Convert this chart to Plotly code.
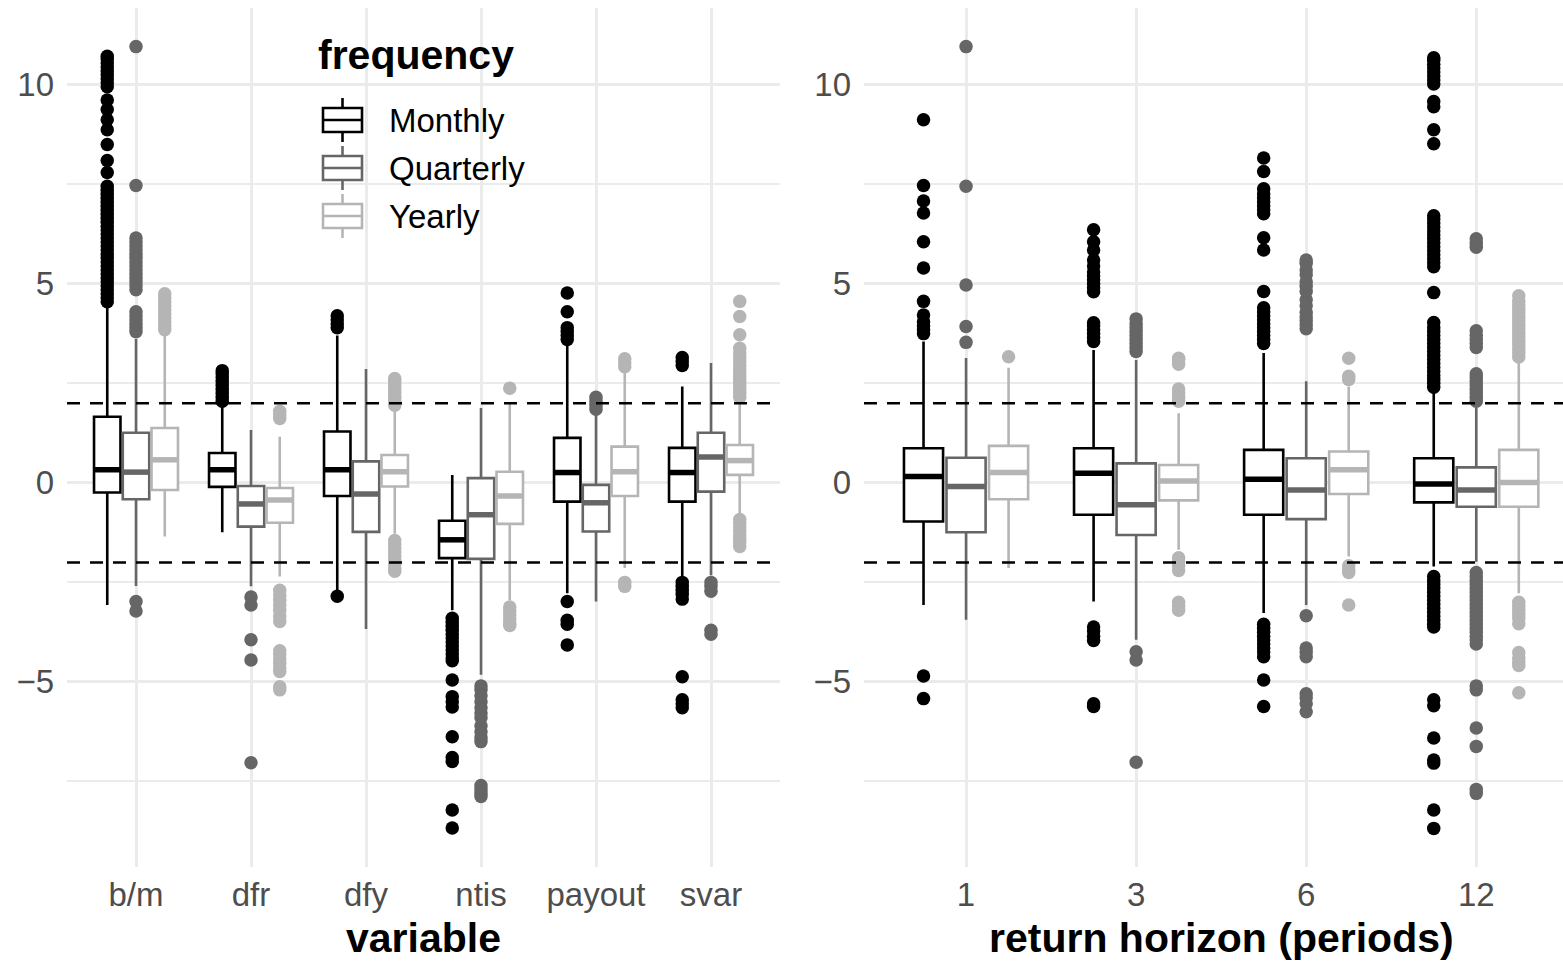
import plotly.graph_objects as go

W, H = 1563, 962

variables = ["b/m", "dfr", "dfy", "ntis", "payout", "svar"]
horizons = ["1", "3", "6", "12"]
frequencies = ["Monthly", "Quarterly", "Yearly"]
freq_colors = {"Monthly": "#000000", "Quarterly": "#666666", "Yearly": "#b5b5b5"}

# ---------------- left panel: by predictor variable ----------------
var_lower = {
    "Monthly":   [-3.07, -1.24, -2.69, -3.20, -2.77, -2.35],
    "Quarterly": [-2.59, -2.60, -3.67, -4.82, -2.98, -2.32],
    "Yearly":    [-1.35, -2.35, -1.28, -2.95, -2.14, -0.78],
}
var_q1 = {
    "Monthly":   [-0.24, -0.10, -0.33, -1.89, -0.47, -0.47],
    "Quarterly": [-0.41, -1.10, -1.23, -1.91, -1.22, -0.22],
    "Yearly":    [-0.18, -1.00, -0.09, -1.03, -0.33, 0.20],
}
var_median = {
    "Monthly":   [0.33, 0.33, 0.33, -1.43, 0.26, 0.26],
    "Quarterly": [0.27, -0.53, -0.28, -0.80, -0.50, 0.65],
    "Yearly":    [0.58, -0.43, 0.28, -0.33, 0.28, 0.56],
}
var_q3 = {
    "Monthly":   [1.66, 0.75, 1.29, -0.95, 1.13, 0.88],
    "Quarterly": [1.26, -0.08, 0.54, 0.12, -0.05, 1.26],
    "Yearly":    [1.38, -0.13, 0.70, 0.28, 0.91, 0.95],
}
var_upper = {
    "Monthly":   [4.42, 1.95, 3.70, 0.20, 3.45, 2.42],
    "Quarterly": [3.62, 1.33, 2.86, 1.88, 1.72, 3.01],
    "Yearly":    [3.70, 1.16, 1.80, 2.00, 2.76, 2.00],
}
var_outliers = {
    "Monthly": [
        [4.55, 4.65, 4.75, 4.85, 4.95, 5.05, 5.15, 5.25, 5.35, 5.45, 5.55, 5.65, 5.75, 5.85, 5.95,
         6.05, 6.15, 6.25, 6.35, 6.45, 6.55, 6.65, 6.75, 6.85, 6.95, 7.05, 7.15, 7.25, 7.35, 7.45,
         7.8, 8.1, 8.5, 8.87, 9.12, 9.38, 9.62, 9.95, 10.05, 10.15, 10.25, 10.35, 10.45, 10.55,
         10.65, 10.72],
        [2.05, 2.15, 2.25, 2.35, 2.45, 2.55, 2.65, 2.75, 2.82],
        [3.9, 4.0, 4.1, 4.2, -2.85],
        [-3.4, -3.5, -3.6, -3.7, -3.8, -3.9, -4.0, -4.1, -4.2, -4.3, -4.4, -4.47, -4.95, -5.37,
         -5.5, -5.63, -6.38, -6.9, -7.0, -8.22, -8.67],
        [3.6, 3.7, 3.8, 3.9, 4.3, 4.77, -2.98, -3.45, -3.55, -4.07],
        [2.95, 3.05, 3.15, -2.5, -2.6, -2.7, -2.8, -2.92, -4.87, -5.45, -5.55, -5.65],
    ],
    "Quarterly": [
        [3.8, 3.9, 4.0, 4.1, 4.2, 4.3, 4.85, 4.95, 5.05, 5.15, 5.25, 5.35, 5.45, 5.55, 5.65,
         5.75, 5.85, 5.95, 6.05, 6.15, 7.47, 10.96, -2.98, -3.22],
        [-2.87, -3.07, -3.94, -4.45, -7.03],
        [],
        [-5.1, -5.2, -5.35, -5.5, -5.65, -5.78, -5.9, -6.1, -6.25, -6.4, -6.5, -7.6, -7.7, -7.8,
         -7.88],
        [1.85, 1.95, 2.05, 2.15],
        [-2.5, -2.6, -2.72, -3.7, -3.8],
    ],
    "Yearly": [
        [3.85, 3.95, 4.05, 4.15, 4.25, 4.35, 4.45, 4.55, 4.65, 4.75],
        [1.62, 1.72, 1.8, -2.7, -2.82, -2.95, -3.07, -3.2, -3.36, -3.48, -4.22, -4.3, -4.42,
         -4.53, -4.65, -4.74, -5.12, -5.2],
        [1.95, 2.05, 2.15, 2.25, 2.35, 2.45, 2.55, 2.62, -1.45, -1.55, -1.65, -1.75, -1.85,
         -1.95, -2.05, -2.15, -2.22],
        [2.38, -3.12, -3.22, -3.32, -3.42, -3.52, -3.58],
        [2.92, 3.02, 3.12, -2.5, -2.6],
        [2.15, 2.25, 2.35, 2.45, 2.55, 2.65, 2.75, 2.85, 2.95, 3.05, 3.15, 3.25, 3.38, 3.72,
         4.18, 4.56, -0.92, -1.02, -1.12, -1.22, -1.32, -1.42, -1.5, -1.6],
    ],
}

# ---------------- right panel: by return horizon ----------------
hor_lower = {
    "Monthly":   [-3.07, -2.98, -3.27, -2.10],
    "Quarterly": [-3.44, -3.94, -3.07, -1.98],
    "Yearly":    [-2.14, -1.68, -1.85, -2.77],
}
hor_q1 = {
    "Monthly":   [-0.97, -0.80, -0.80, -0.49],
    "Quarterly": [-1.24, -1.31, -0.91, -0.60],
    "Yearly":    [-0.41, -0.44, -0.28, -0.60],
}
hor_median = {
    "Monthly":   [0.16, 0.24, 0.09, -0.03],
    "Quarterly": [-0.09, -0.55, -0.18, -0.18],
    "Yearly":    [0.26, 0.05, 0.33, 0.01],
}
hor_q3 = {
    "Monthly":   [0.87, 0.87, 0.83, 0.62],
    "Quarterly": [0.63, 0.49, 0.62, 0.39],
    "Yearly":    [0.93, 0.45, 0.79, 0.83],
}
hor_upper = {
    "Monthly":   [3.55, 3.34, 3.26, 2.26],
    "Quarterly": [3.14, 3.09, 2.55, 1.88],
    "Yearly":    [2.89, 1.75, 2.42, 3.01],
}
hor_outliers = {
    "Monthly": [
        [3.75, 3.85, 3.95, 4.05, 4.22, 4.56, 5.4, 6.06, 6.78, 7.08, 7.47, 9.12, -4.85, -5.42],
        [3.55, 3.65, 3.75, 3.85, 3.95, 4.02, 4.8, 4.9, 5.0, 5.1, 5.2, 5.3, 5.45, 5.6, 5.85,
         6.06, 6.36, -3.62, -3.72, -3.85, -3.96, -5.55, -5.62],
        [3.5, 3.6, 3.7, 3.8, 3.9, 4.0, 4.1, 4.2, 4.3, 4.4, 4.81, 5.85, 6.16, 6.76, 6.86, 6.96,
         7.06, 7.16, 7.26, 7.39, 7.82, 8.16, -3.55, -3.65, -3.75, -3.85, -3.95, -4.05, -4.15,
         -4.25, -4.37, -4.95, -5.62],
        [2.4, 2.5, 2.6, 2.7, 2.8, 2.9, 3.0, 3.1, 3.2, 3.3, 3.4, 3.5, 3.6, 3.7, 3.8, 3.9, 4.03,
         4.78, 5.43, 5.53, 5.63, 5.73, 5.83, 5.93, 6.03, 6.13, 6.23, 6.33, 6.43, 6.53, 6.63,
         6.71, 8.52, 8.87, 9.45, 9.58, 10.02, 10.12, 10.22, 10.32, 10.42, 10.52, 10.62, 10.68,
         -2.35, -2.45, -2.55, -2.65, -2.75, -2.85, -2.95, -3.05, -3.15, -3.25, -3.35, -3.45,
         -3.55, -3.62, -5.45, -5.6, -6.41, -6.96, -7.04, -8.22, -8.68],
    ],
    "Quarterly": [
        [3.53, 3.93, 4.97, 7.45, 10.96],
        [3.3, 3.4, 3.5, 3.6, 3.7, 3.8, 3.9, 4.0, 4.12, -4.24, -4.45, -7.02],
        [3.87, 3.97, 4.07, 4.17, 4.28, 4.45, 4.6, 4.81, 4.94, 5.05, 5.23, 5.35, 5.52, 5.6,
         -3.34, -4.15, -4.25, -4.37, -5.3, -5.4, -5.55, -5.75],
        [2.05, 2.15, 2.25, 2.35, 2.45, 2.55, 2.65, 2.74, 3.4, 3.5, 3.6, 3.7, 3.82, 5.92, 6.02,
         6.13, -2.25, -2.35, -2.45, -2.55, -2.65, -2.75, -2.85, -2.95, -3.05, -3.15, -3.25,
         -3.35, -3.45, -3.55, -3.65, -3.75, -3.85, -3.95, -4.05, -5.1, -5.2, -6.16, -6.62,
         -7.7, -7.8],
    ],
    "Yearly": [
        [3.17],
        [2.05, 2.15, 2.25, 2.36, 2.98, 3.1, 3.13, -1.88, -1.98, -2.08, -2.2, -3.0, -3.1, -3.2],
        [2.6, 2.68, 3.13, -2.08, -2.18, -2.25, -3.07],
        [3.16, 3.26, 3.36, 3.46, 3.56, 3.66, 3.76, 3.86, 3.96, 4.06, 4.16, 4.26, 4.36, 4.46,
         4.56, 4.7, -3.0, -3.1, -3.2, -3.3, -3.4, -3.54, -4.26, -4.4, -4.5, -4.59, -5.27],
    ],
}

# ---------------- styling constants ----------------
DODGE = {"Monthly": -0.25, "Quarterly": 0.0, "Yearly": 0.25}
BOX_W = 0.23
GRID = "#ebebeb"
TICK_COL = "#4d4d4d"
FONT = "Liberation Sans, Arial, Helvetica, sans-serif"
Y_RANGE = [-9.65, 11.93]

fig = go.Figure()


def add_panel(xref, yref, stats, outliers, n_cat):
    lower, q1, med, q3, upper = stats
    for f in frequencies:
        col = freq_colors[f]
        pos = [i + 1 + DODGE[f] for i in range(n_cat)]
        fig.add_trace(go.Box(
            x=pos, q1=q1[f], median=med[f], q3=q3[f],
            lowerfence=lower[f], upperfence=upper[f],
            width=BOX_W, whiskerwidth=0, boxpoints=False,
            fillcolor="white", line=dict(color=col, width=2.6),
            xaxis=xref, yaxis=yref, showlegend=False, hoverinfo="skip",
        ))
        # heavier median bar
        mx, my = [], []
        for p, m in zip(pos, med[f]):
            mx += [p - BOX_W / 2, p + BOX_W / 2, None]
            my += [m, m, None]
        fig.add_trace(go.Scatter(
            x=mx, y=my, mode="lines", line=dict(color=col, width=5.5),
            xaxis=xref, yaxis=yref, showlegend=False, hoverinfo="skip",
        ))
        ox, oy = [], []
        for p, vals in zip(pos, outliers[f]):
            ox += [p] * len(vals)
            oy += vals
        fig.add_trace(go.Scatter(
            x=ox, y=oy, mode="markers",
            marker=dict(color=col, size=13.5, line=dict(width=0)),
            xaxis=xref, yaxis=yref, showlegend=False, hoverinfo="skip",
        ))


add_panel("x", "y", (var_lower, var_q1, var_median, var_q3, var_upper), var_outliers,
          len(variables))
add_panel("x2", "y2", (hor_lower, hor_q1, hor_median, hor_q3, hor_upper), hor_outliers,
          len(horizons))

# reference bands at +/-2
for xr, yr in (("x", "y"), ("x2", "y2")):
    for lvl in (2, -2):
        fig.add_shape(type="line", xref=f"{xr} domain", yref=yr, x0=0, x1=1, y0=lvl, y1=lvl,
                      line=dict(color="black", width=2.6, dash="13px,10px"), layer="above")

y_dom = [1 - 867 / H, 1 - 8 / H]
axis_common = dict(
    showgrid=True, gridcolor=GRID, gridwidth=2.5, zeroline=False, showline=False,
    ticks="", tickfont=dict(family=FONT, size=33, color=TICK_COL),
)
y_common = dict(
    axis_common, range=Y_RANGE, tickmode="array", tickvals=[-5, 0, 5, 10],
    minor=dict(dtick=2.5, tick0=0, showgrid=True, gridcolor=GRID, gridwidth=2),
    ticklabelstandoff=12, domain=y_dom,
)

fig.update_layout(
    width=W, height=H,
    margin=dict(l=0, r=0, t=0, b=0),
    paper_bgcolor="white", plot_bgcolor="white",
    boxmode="overlay", showlegend=False,
    font=dict(family=FONT),
    xaxis=dict(axis_common, domain=[67 / W, 780 / W], range=[0.4, 6.6], tickmode="array",
               tickvals=list(range(1, len(variables) + 1)), ticktext=variables,
               ticklabelstandoff=5, anchor="y"),
    yaxis=dict(y_common, anchor="x"),
    xaxis2=dict(axis_common, domain=[864 / W, 1.0], range=[0.4, 4.51], tickmode="array",
                tickvals=list(range(1, len(horizons) + 1)), ticktext=horizons,
                ticklabelstandoff=5, anchor="y2"),
    yaxis2=dict(y_common, anchor="x2"),
)

# axis titles
fig.add_annotation(text="<b>variable</b>", xref="x", x=3.5, yref="paper", y=1 - 938 / H,
                   showarrow=False, xanchor="center", yanchor="middle",
                   font=dict(family=FONT, size=41, color="black"))
fig.add_annotation(text="<b>return horizon (periods)</b>", xref="x2", x=2.5, yref="paper",
                   y=1 - 938 / H, showarrow=False, xanchor="center", yanchor="middle",
                   font=dict(family=FONT, size=41, color="black"))

# legend: title, key glyphs and labels
fig.add_annotation(text="<b>frequency</b>", xref="paper", x=316 / W, yref="paper",
                   y=1 - 55 / H, showarrow=False, xanchor="left", yanchor="middle",
                   font=dict(family=FONT, size=41, color="black"))
key_x0, key_x1 = 323, 362
key_xc = (key_x0 + key_x1) / 2
for f, yc in zip(frequencies, (120, 168, 216)):
    col = freq_colors[f]
    lw = dict(color=col, width=2.6)
    fig.add_shape(type="rect", xref="paper", yref="paper", x0=key_x0 / W, x1=key_x1 / W,
                  y0=1 - (yc + 12) / H, y1=1 - (yc - 12) / H, line=lw, fillcolor="white")
    fig.add_shape(type="line", xref="paper", yref="paper", x0=key_x0 / W, x1=key_x1 / W,
                  y0=1 - yc / H, y1=1 - yc / H, line=lw)
    fig.add_shape(type="line", xref="paper", yref="paper", x0=key_xc / W, x1=key_xc / W,
                  y0=1 - (yc - 12) / H, y1=1 - (yc - 22) / H, line=lw)
    fig.add_shape(type="line", xref="paper", yref="paper", x0=key_xc / W, x1=key_xc / W,
                  y0=1 - (yc + 12) / H, y1=1 - (yc + 22) / H, line=lw)
    fig.add_annotation(text=f, xref="paper", x=387 / W, yref="paper", y=1 - yc / H,
                       showarrow=False, xanchor="left", yanchor="middle",
                       font=dict(family=FONT, size=33, color="black"))

fig.write_html("out.html")
